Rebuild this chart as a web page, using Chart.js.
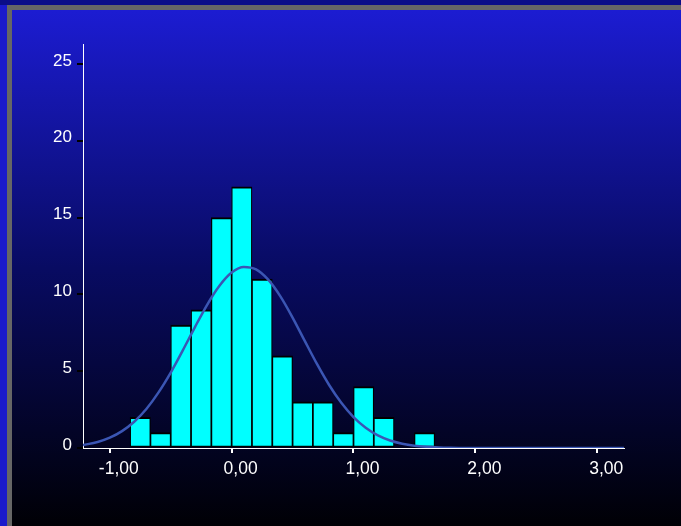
<!DOCTYPE html>
<html>
<head>
<meta charset="utf-8">
<script src="https://cdn.jsdelivr.net/npm/chart.js@4/dist/chart.umd.min.js"></script>
<style>
html,body{margin:0;padding:0;background:#1a1acc;}
#c{display:block;}
</style>
</head>
<body>
<canvas id="c" width="681" height="526"></canvas>
<script>
// Histogram bins (centres, bin width 1/6) and counts
const binCenters = [-0.75, -0.5833, -0.4167, -0.25, -0.0833, 0.0833, 0.25, 0.4167, 0.5833, 0.75, 0.9167, 1.0833, 1.25, 1.4167, 1.5833];
const binCounts  = [2, 1, 8, 9, 15, 17, 11, 6, 3, 3, 1, 4, 2, 0, 1];

// Fitted normal curve
const curveX = [-1.22, -1.1, -1.0, -0.9, -0.8, -0.7, -0.6, -0.5, -0.4, -0.3, -0.2, -0.1, 0.0, 0.1, 0.2, 0.3, 0.4, 0.5, 0.6, 0.7, 0.8, 0.9, 1.0, 1.1, 1.2, 1.3, 1.4, 1.5, 1.6, 1.7, 1.8, 2.0, 2.5, 3.0, 3.22];
const curveY = [0.19, 0.39, 0.67, 1.10, 1.71, 2.54, 3.62, 4.91, 6.37, 7.89, 9.34, 10.56, 11.42, 11.79, 11.63, 10.96, 9.87, 8.49, 6.97, 5.47, 4.10, 2.94, 2.01, 1.32, 0.82, 0.49, 0.28, 0.15, 0.08, 0.04, 0.02, 0.0, 0.0, 0.0, 0.0];

const xTickValues = [-1, 0, 1, 2, 3];
const xTickLabels = ['-1,00', '0,00', '1,00', '2,00', '3,00'];
const yTickValues = [0, 5, 10, 15, 20, 25];
const yTickLabels = ['0', '5', '10', '15', '20', '25'];

const bgPlugin = {
  id: 'bg',
  beforeDraw(chart) {
    const ctx = chart.ctx, W = chart.width, H = chart.height;
    ctx.save();
    ctx.fillStyle = '#1a1acc';
    ctx.fillRect(0, 0, W, H);
    ctx.fillStyle = '#0b0d88';
    ctx.fillRect(0, 0, W, 5);
    ctx.fillStyle = '#666666';
    ctx.fillRect(7, 5, W - 7, H - 5);
    const g = ctx.createLinearGradient(0, 10, 0, H);
    g.addColorStop(0, '#1c1cd2');
    g.addColorStop(0.5, '#080b62');
    g.addColorStop(1, '#000005');
    ctx.fillStyle = g;
    ctx.fillRect(12, 10, W - 12, H - 10);
    ctx.restore();
  }
};

new Chart(document.getElementById('c'), {
  type: 'bar',
  data: {
    datasets: [
      {
        type: 'line',
        order: 0,
        data: curveX.map((x, i) => ({x: x, y: curveY[i]})),
        borderColor: '#3b56b4',
        borderWidth: 2.5,
        pointRadius: 0,
        tension: 0.4,
        cubicInterpolationMode: 'monotone',
        fill: false
      },
      {
        type: 'bar',
        order: 1,
        data: binCenters.map((x, i) => ({x: x, y: binCounts[i]})),
        backgroundColor: '#00ffff',
        borderColor: '#000000',
        borderWidth: {top: 2, left: 1.2, right: 1.2, bottom: 1.5},
        borderSkipped: false,
        barPercentage: 1,
        categoryPercentage: 1
      }
    ]
  },
  options: {
    responsive: false,
    animation: false,
    events: [],
    layout: {padding: {left: 0, right: 57, top: 44, bottom: 36}},
    plugins: {legend: {display: false}, tooltip: {enabled: false}},
    scales: {
      x: {
        type: 'linear',
        min: -1.22,
        max: 3.22,
        offset: false,
        afterBuildTicks: s => { s.ticks = xTickValues.map(v => ({value: v})); },
        afterFit: s => { s.height = 42; },
        grid: {display: true, drawOnChartArea: false, drawTicks: true, tickLength: 5, color: '#ffffff', lineWidth: 2, offset: false},
        border: {display: true, color: '#ffffff', width: 1},
        ticks: {
          color: '#ffffff',
          font: {family: 'Liberation Sans, Arial, sans-serif', size: 17.5},
          padding: 6,
          labelOffset: 9,
          maxRotation: 0,
          autoSkip: false,
          callback: (v) => { const i = xTickValues.indexOf(v); return i >= 0 ? xTickLabels[i] : ''; }
        }
      },
      y: {
        min: 0,
        max: 26.3,
        afterBuildTicks: s => { s.ticks = yTickValues.map(v => ({value: v})); },
        afterFit: s => { s.width = 83; },
        grid: {display: true, drawOnChartArea: false, drawTicks: true, tickLength: 6, color: '#000000', lineWidth: 2},
        border: {display: true, color: '#ffffff', width: 1},
        ticks: {
          color: '#ffffff',
          font: {family: 'Liberation Sans, Arial, sans-serif', size: 17},
          padding: 5,
          labelOffset: -3,
          autoSkip: false,
          callback: (v) => { const i = yTickValues.indexOf(v); return i >= 0 ? yTickLabels[i] : ''; }
        }
      }
    }
  },
  plugins: [bgPlugin]
});
</script>
</body>
</html>
